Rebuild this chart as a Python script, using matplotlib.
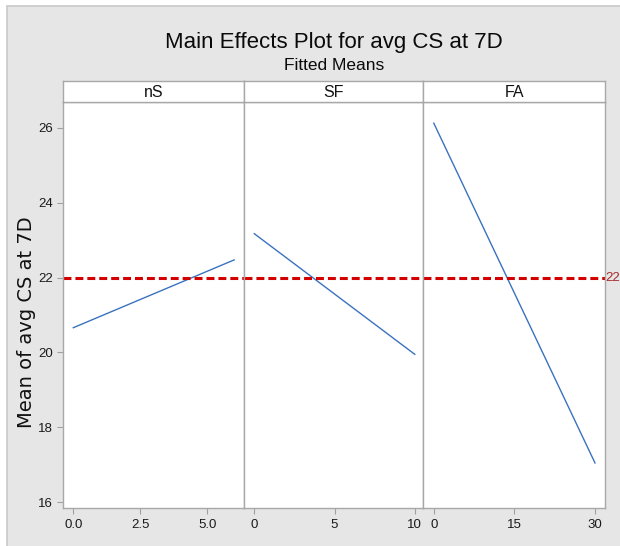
import matplotlib.pyplot as plt
from matplotlib.patches import Rectangle

# fitted means at the low / high level of each factor
factors = ["nS", "SF", "FA"]
levels = {"nS": [0, 6], "SF": [0, 10], "FA": [0, 30]}
means = {"nS": [20.66, 22.47], "SF": [23.17, 19.95], "FA": [26.12, 17.05]}
xticks = {"nS": [0, 2.5, 5.0], "SF": [0, 5, 10], "FA": [0, 15, 30]}
xticklabels = {"nS": ["0.0", "2.5", "5.0"], "SF": ["0", "5", "10"], "FA": ["0", "15", "30"]}
xlims = {"nS": (-0.373, 6.38), "SF": (-0.622, 10.53), "FA": (-1.95, 31.86)}
yticks = [16, 18, 20, 22, 24, 26]
grand_mean = 22

W, H = 620, 546
plt.rcParams["font.family"] = ["Liberation Sans", "DejaVu Sans"]

fig = plt.figure(figsize=(W / 100, H / 100), dpi=100)
fig.patch.set_facecolor("white")
bg = Rectangle((7 / W, -0.01), 1 - 7 / W + 0.01, 1 - 6 / H + 0.01,
               transform=fig.transFigure, facecolor="#e6e6e6",
               edgecolor="#c8c8c8", linewidth=1.2, zorder=-10)
fig.add_artist(bg)

def fx(px):
    return px / W

def fy(py):
    return 1 - py / H

edges = [63.3, 244.3, 423.3, 605]
top, bottom, strip_top = 102, 508.3, 81

for i, f in enumerate(factors):
    x0, x1 = edges[i], edges[i + 1]
    ax = fig.add_axes([fx(x0), fy(bottom), fx(x1 - x0), (bottom - top) / H])
    ax.set_facecolor("white")
    ax.plot(levels[f], means[f], color="#3a72c0", lw=1.0)
    ax.axhline(grand_mean, color="#d40000", lw=2.2, ls=(0, (2.6, 1.3)))
    ax.set_xlim(*xlims[f])
    ax.set_ylim(15.84, 26.685)
    ax.set_xticks(xticks[f])
    ax.set_xticklabels(xticklabels[f])
    ax.set_yticks(yticks)
    ax.tick_params(colors="#a0a0a0", labelcolor="#1a1a1a", labelsize=9.5,
                   length=4, width=0.8)
    if i > 0:
        ax.tick_params(axis="y", left=False, labelleft=False)
    for s in ax.spines.values():
        s.set_color("#a8a8a8")
        s.set_linewidth(1.0)

    sax = fig.add_axes([fx(x0), fy(top), fx(x1 - x0), (top - strip_top) / H])
    sax.set_facecolor("white")
    sax.set_xticks([])
    sax.set_yticks([])
    for s in sax.spines.values():
        s.set_color("#a8a8a8")
        s.set_linewidth(1.0)
    sax.text(0.5, 0.45, f, ha="center", va="center", fontsize=11.5,
             color="#111111", transform=sax.transAxes)

    if i == 2:
        ax.text(1.004, grand_mean, "22", transform=ax.get_yaxis_transform(),
                ha="left", va="center", fontsize=9.5, color="#a52a2a")

fig.text(fx(334), fy(43), "Main Effects Plot for avg CS at 7D", ha="center",
         va="center", fontsize=16, color="#0a0a0a")
fig.text(fx(334), fy(65), "Fitted Means", ha="center", va="center",
         fontsize=12.5, color="#0a0a0a")
fig.text(fx(26), fy(322), "Mean of avg CS at 7D", rotation=90, ha="center",
         va="center", fontsize=14, color="#111111", family="DejaVu Sans")

fig.savefig("out.png", dpi=100)
